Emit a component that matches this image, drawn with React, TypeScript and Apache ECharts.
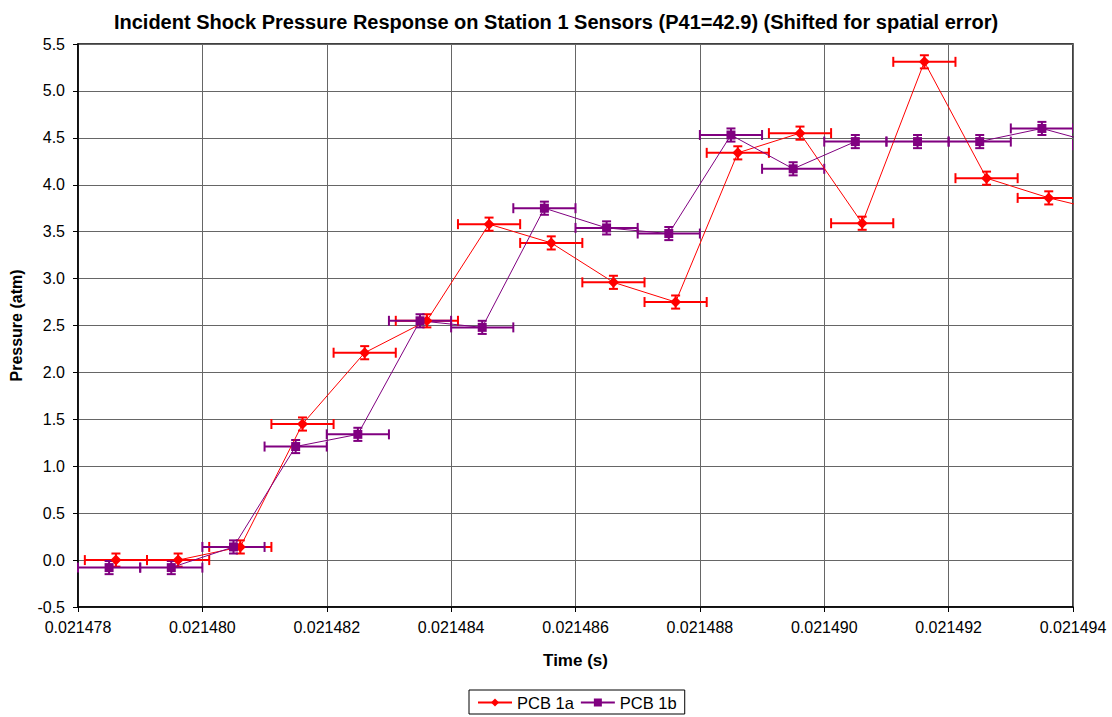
import React, { useEffect, useRef } from "react";
import * as echarts from "echarts";

const titleText =
  "Incident Shock Pressure Response on Station 1 Sensors (P41=42.9) (Shifted for spatial error)";

const timeA = [
  0.02147861, 0.02147961, 0.02148061, 0.02148161, 0.02148261, 0.02148361,
  0.02148461, 0.02148561, 0.02148661, 0.02148761, 0.02148861, 0.02148961,
  0.02149061, 0.02149161, 0.02149261, 0.02149361, 0.02149461,
];
const pressureA = [
  0.0, 0.0, 0.14, 1.45, 2.21, 2.55, 3.58, 3.38, 2.96, 2.75, 4.34, 4.55, 3.59,
  5.31, 4.07, 3.86, 3.7,
];

const timeB = [
  0.0214785, 0.0214795, 0.0214805, 0.0214815, 0.0214825, 0.0214835, 0.0214845,
  0.0214855, 0.0214865, 0.0214875, 0.0214885, 0.0214895, 0.0214905, 0.0214915,
  0.0214925, 0.0214935, 0.0214945,
];
const pressureB = [
  -0.08, -0.08, 0.14, 1.21, 1.34, 2.55, 2.48, 3.75, 3.54, 3.48, 4.53, 4.17,
  4.46, 4.46, 4.46, 4.6, 4.42,
];

const timeErr = 0.0000005;
const pressureErr = 0.07;

const xMin = 0.021478;
const xMax = 0.021494;
const xStep = 0.000002;
const yMin = -0.5;
const yMax = 5.5;
const yStep = 0.5;

const FONT = "'Liberation Sans', Arial, sans-serif";

function errorSeries(name: string, xs: number[], ys: number[], color: string) {
  return {
    type: "custom",
    name,
    clip: true,
    silent: true,
    z: 3,
    data: xs.map((x, i) => [x, ys[i]]),
    renderItem: (_params: any, api: any) => {
      const x = api.value(0);
      const y = api.value(1);
      const l = api.coord([x - timeErr, y]);
      const r = api.coord([x + timeErr, y]);
      const t = api.coord([x, y + pressureErr]);
      const b = api.coord([x, y - pressureErr]);
      const hc = 5;
      const vc = 4.5;
      const style = { stroke: color, lineWidth: 2, fill: null };
      const ln = (x1: number, y1: number, x2: number, y2: number) => ({
        type: "line",
        shape: { x1, y1, x2, y2 },
        style,
      });
      return {
        type: "group",
        children: [
          ln(l[0], l[1], r[0], r[1]),
          ln(l[0], l[1] - hc, l[0], l[1] + hc),
          ln(r[0], r[1] - hc, r[0], r[1] + hc),
          ln(t[0], t[1], b[0], b[1]),
          ln(t[0] - vc, t[1], t[0] + vc, t[1]),
          ln(b[0] - vc, b[1], b[0] + vc, b[1]),
        ],
      };
    },
  };
}

export default function App() {
  const ref = useRef<HTMLDivElement>(null);
  useEffect(() => {
    if (!ref.current) return;
    const chart = echarts.init(ref.current, undefined, { renderer: "svg" });
    chart.setOption({
      animation: false,
      backgroundColor: "#ffffff",
      textStyle: { fontFamily: FONT },
      title: {
        text: titleText,
        left: "center",
        top: 7,
        textStyle: {
          fontFamily: FONT,
          fontSize: 20,
          fontWeight: "bold",
          color: "#000",
        },
      },
      legend: {
        data: ["PCB 1a", "PCB 1b"],
        left: 469,
        top: 690,
        orient: "horizontal",
        borderColor: "#000",
        borderWidth: 1,
        padding: [4, 8, 3, 8],
        itemGap: 6,
        itemWidth: 34,
        itemHeight: 10,
        textStyle: { fontFamily: FONT, fontSize: 16.5, color: "#000" },
      },
      grid: {
        left: 77,
        right: 39,
        top: 44,
        bottom: 110,
        show: true,
        borderColor: "#000",
        borderWidth: 1.5,
      },
      xAxis: {
        type: "value",
        min: xMin,
        max: xMax,
        interval: xStep,
        name: "Time (s)",
        nameLocation: "middle",
        nameGap: 45,
        nameTextStyle: {
          fontFamily: FONT,
          fontSize: 17,
          fontWeight: "bold",
          color: "#000",
        },
        axisLine: { show: true, onZero: false, lineStyle: { color: "#000", width: 1.5 } },
        axisTick: { show: true, inside: false, length: 5, lineStyle: { color: "#000" } },
        axisLabel: {
          margin: 12,
          fontFamily: FONT,
          fontSize: 16,
          color: "#000",
          formatter: (v: number) => v.toFixed(6),
        },
        splitLine: { show: true, lineStyle: { color: "#666", width: 1 } },
      },
      yAxis: {
        type: "value",
        min: yMin,
        max: yMax,
        interval: yStep,
        name: "Pressure (atm)",
        nameLocation: "middle",
        nameGap: 54,
        nameTextStyle: {
          fontFamily: FONT,
          fontSize: 16,
          fontWeight: "bold",
          color: "#000",
        },
        axisLine: { show: true, onZero: false, lineStyle: { color: "#000", width: 1.5 } },
        axisTick: { show: true, inside: false, length: 5, lineStyle: { color: "#000" } },
        axisLabel: {
          margin: 13,
          fontFamily: FONT,
          fontSize: 16,
          color: "#000",
          formatter: (v: number) => v.toFixed(1),
        },
        splitLine: { show: true, lineStyle: { color: "#666", width: 1 } },
      },
      series: [
        errorSeries("errA", timeA, pressureA, "#ff0000"),
        errorSeries("errB", timeB, pressureB, "#800080"),
        {
          type: "line",
          name: "PCB 1a",
          data: timeA.map((x, i) => [x, pressureA[i]]),
          symbol: "diamond",
          symbolSize: 11,
          showAllSymbol: true,
          clip: true,
          z: 4,
          lineStyle: { color: "#ff0000", width: 1 },
          itemStyle: { color: "#ff0000" },
        },
        {
          type: "line",
          name: "PCB 1b",
          data: timeB.map((x, i) => [x, pressureB[i]]),
          symbol: "rect",
          symbolSize: 9,
          showAllSymbol: true,
          clip: true,
          z: 4,
          lineStyle: { color: "#800080", width: 1 },
          itemStyle: { color: "#800080" },
        },
      ],
    });
    return () => chart.dispose();
  }, []);
  return (
    <div
      ref={ref}
      style={{ position: "fixed", left: 0, top: 0, width: 1112, height: 717 }}
    />
  );
}
